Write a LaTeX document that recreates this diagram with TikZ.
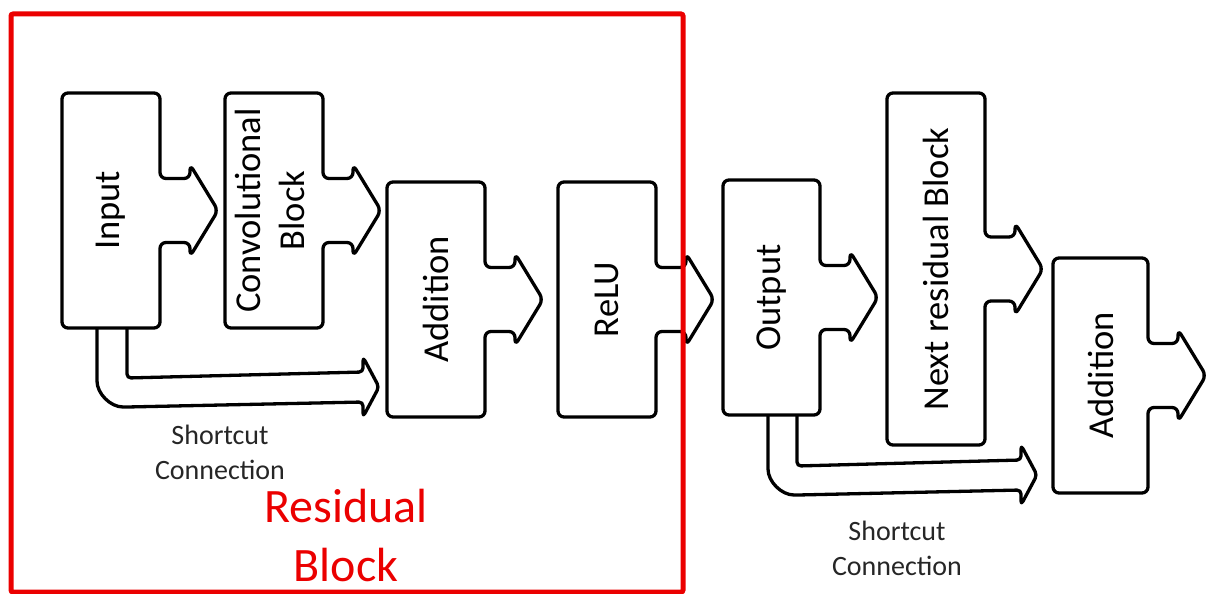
\documentclass[tikz,border=0pt]{standalone}
\usepackage{fontspec}
\setmainfont{Carlito}
\usepackage{graphicx}
\usetikzlibrary{calc}
\definecolor{rbred}{RGB}{235,0,0}
\definecolor{txtgray}{RGB}{38,38,38}
\tikzset{
  procbox/.style={draw=none, inner sep=0pt, outer sep=0pt, minimum width=98pt, minimum height=235pt, text=black, font=\fontsize{36.5}{44}\selectfont},
  boxline/.style={draw=black, line width=3.3pt, rounded corners=6pt, line join=round},
  shortline/.style={draw=black, line width=3.3pt, rounded corners=4pt, line join=round},
  sclabel/.style={align=center, text=txtgray, inner sep=0pt, font=\fontsize{28}{35}\selectfont},
  redframe/.style={draw=rbred, line width=5pt, rounded corners=2pt, inner sep=0pt, outer sep=0pt},
  rblabel/.style={align=center, text=rbred, inner sep=0pt, font=\fontsize{48}{59}\selectfont}
}
\newcommand\procoutline[1]{%
  \draw[boxline] (#1.north west) -- (#1.north east) -- ($(#1.east)+(0,-32)$) -- ($(#1.east)+(30,-32)$) -- ($(#1.east)+(30,-46)$) -- ($(#1.east)+(58,0)$) -- ($(#1.east)+(30,46)$) -- ($(#1.east)+(30,32)$) -- ($(#1.east)+(0,32)$) -- (#1.south east) -- (#1.south west) -- cycle;}
\begin{document}
\begin{tikzpicture}[x=1pt,y=-1pt]
\useasboundingbox (0,0) rectangle (1210,594);

% process boxes
\node[procbox] (in) at (111,210.5) {\rotatebox{90}{Input}};
\node[procbox] (conv) at (274,210.5) {\rotatebox{90}{\begin{tabular}{@{}c@{}}Convolutional\\Block\end{tabular}}};
\node[procbox] (add) at (436,299.5) {\rotatebox{90}{Addition}};
\node[procbox] (relu) at (607,299.5) {\rotatebox{90}{ReLU}};
\node[procbox, minimum width=97pt] (out) at (771.5,297.5) {\rotatebox{90}{Output}};
\node[procbox, minimum height=352pt] (next) at (936,269) {\rotatebox{90}{Next residual Block}};
\node[procbox, minimum width=95pt] (add2) at (1100.5,375.5) {\rotatebox{90}{Addition}};

\procoutline{in}
\procoutline{conv}
\procoutline{add}
\procoutline{relu}
\procoutline{out}
\procoutline{next}
\procoutline{add2}

% shortcut 1
\coordinate (t1) at ($(add.west)+(-8,87.5)$);
\coordinate (s1i) at ($(in.south west)+(65,0)$);
\coordinate (s1o) at ($(in.south west)+(35,0)$);
\draw[shortline] (s1i) -- ($(s1i|-t1)+(0,-9)$) -- ($(t1)+(-16,-15)$) -- ($(t1)+(-16,-30)$) -- (t1) -- ($(t1)+(-16,30)$) -- ($(t1)+(-16,15)$) -- ($(s1o|-t1)+(30,20)$) .. controls ($(s1o|-t1)+(13.4,20)$) and ($(s1o|-t1)+(0,6.6)$) .. ($(s1o|-t1)+(0,-10)$) -- (s1o);

% shortcut 2
\coordinate (t2) at ($(add2.west)+(-16,99.5)$);
\coordinate (s2i) at ($(out.south west)+(74,0)$);
\coordinate (s2o) at ($(out.south west)+(45,0)$);
\draw[shortline] (s2i) -- ($(s2i|-t2)+(0,-9)$) -- ($(t2)+(-16,-15)$) -- ($(t2)+(-16,-30)$) -- (t2) -- ($(t2)+(-16,30)$) -- ($(t2)+(-16,15)$) -- ($(s2o|-t2)+(30,20)$) .. controls ($(s2o|-t2)+(13.4,20)$) and ($(s2o|-t2)+(0,6.6)$) .. ($(s2o|-t2)+(0,-10)$) -- (s2o);

\node[sclabel] (sc1) at (220,452) {Shortcut\\Connection};
\node[sclabel] (sc2) at (897,548) {Shortcut\\Connection};

% residual block frame
\node[redframe, minimum width=672pt, minimum height=578pt] (rb) at (347,303) {};
\node[rblabel] (rbl) at (346,535) {Residual\\Block};
\end{tikzpicture}
\end{document}
